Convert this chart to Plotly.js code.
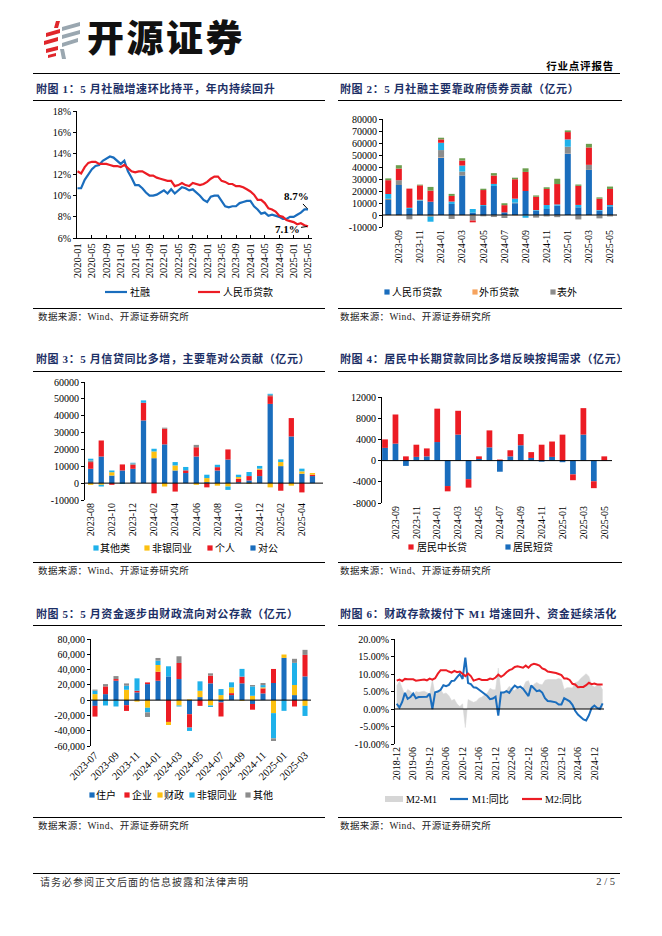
<!DOCTYPE html>
<html lang="zh-CN">
<head>
<meta charset="utf-8">
<title>行业点评报告</title>
<script src="https://cdn.plot.ly/plotly-3.0.1.min.js"></script>
<style>
html,body{margin:0;padding:0;background:#fff;}
body{width:662px;height:936px;position:relative;overflow:hidden;font-family:"Liberation Serif","Noto Sans CJK SC",serif;color:#000;}
.t{position:absolute;white-space:nowrap;line-height:1;}
.ttl{font-weight:700;font-size:11px;color:#1c2f66;letter-spacing:0.6px;}
.hr{position:absolute;height:0;border-top:1px solid #000;}
.src{font-size:9.5px;color:#222;letter-spacing:0.4px;}
.chart{position:absolute;}
</style>
</head>
<body>
<svg class="t" style="left:42px;top:19px" width="42" height="42" viewBox="0 0 42 42">
  <g fill="#e0262b">
    <polygon points="14,2 18,2 16,9 12,9"/>
    <polygon points="4,14 18,10 18,14 4,18"/>
    <polygon points="2,22 16,18 16,22 2,26"/>
    <polygon points="4,30 16,27 16,31 4,34"/>
    <polygon points="6,36 14,34 14,37 6,39"/>
  </g>
  <g fill="#9aa7b0">
    <polygon points="20,8 38,3 38,7 20,12"/>
    <polygon points="20,16 38,11 38,15 20,20"/>
    <polygon points="20,24 36,19 36,23 20,28"/>
    <polygon points="18,30 22,30 24,40 20,40"/>
  </g>
</svg>
<div class="t" style="left:87px;top:18px;font-family:'Noto Sans CJK SC';font-weight:900;font-size:37px;letter-spacing:2.5px;color:#111;">开源证券</div>
<div class="t" style="right:48px;top:61px;font-family:'Noto Sans CJK SC';font-weight:700;font-size:10.5px;letter-spacing:0.8px;">行业点评报告</div>
<div class="hr" style="left:33px;width:587px;top:73px;border-top-width:1.5px"></div>

<div class="t ttl" style="left:36px;top:84px;">附图 1：5 月社融增速环比持平，年内持续回升</div>
<div class="t ttl" style="left:340px;top:84px;">附图 2：5 月社融主要靠政府债券贡献（亿元）</div>
<div class="hr" style="left:33px;width:292px;top:100px;"></div>
<div class="hr" style="left:338px;width:284px;top:100px;"></div>
<div class="hr" style="left:33px;width:292px;top:308px;"></div>
<div class="hr" style="left:338px;width:284px;top:308px;"></div>
<div class="t src" style="left:38px;top:313px;">数据来源：Wind、开源证券研究所</div>
<div class="t src" style="left:340px;top:313px;">数据来源：Wind、开源证券研究所</div>

<div class="t ttl" style="left:36px;top:354px;">附图 3：5 月信贷同比多增，主要靠对公贡献（亿元）</div>
<div class="t ttl" style="left:340px;top:354px;">附图 4：居民中长期贷款同比多增反映按揭需求（亿元）</div>
<div class="hr" style="left:33px;width:292px;top:371px;"></div>
<div class="hr" style="left:338px;width:284px;top:371px;"></div>
<div class="hr" style="left:33px;width:292px;top:562px;"></div>
<div class="hr" style="left:338px;width:284px;top:562px;"></div>
<div class="t src" style="left:38px;top:567px;">数据来源：Wind、开源证券研究所</div>
<div class="t src" style="left:340px;top:567px;">数据来源：Wind、开源证券研究所</div>

<div class="t ttl" style="left:36px;top:609px;">附图 5：5 月资金逐步由财政流向对公存款（亿元）</div>
<div class="t ttl" style="left:340px;top:609px;">附图 6：财政存款拨付下 M1 增速回升、资金延续活化</div>
<div class="hr" style="left:33px;width:292px;top:625px;"></div>
<div class="hr" style="left:338px;width:284px;top:625px;"></div>
<div class="hr" style="left:33px;width:292px;top:817px;"></div>
<div class="hr" style="left:338px;width:284px;top:817px;"></div>
<div class="t src" style="left:38px;top:822px;">数据来源：Wind、开源证券研究所</div>
<div class="t src" style="left:340px;top:822px;">数据来源：Wind、开源证券研究所</div>

<div class="hr" style="left:33px;width:587px;top:873px;"></div>
<div class="t" style="left:40px;top:877px;font-size:10px;color:#333;letter-spacing:1px;font-family:'Noto Sans CJK SC';">请务必参阅正文后面的信息披露和法律声明</div>
<div class="t" style="right:47px;top:877px;font-size:10.5px;color:#333;">2 / 5</div>

<script>
// ---------- categories ----------
function monthRange(y, m, n) {
  const out = [];
  for (let i = 0; i < n; i++) {
    const mm = m - 1 + i;
    const yy = y + Math.floor(mm / 12);
    const mo = (mm % 12) + 1;
    out.push(yy + '-' + (mo < 10 ? '0' : '') + mo);
  }
  return out;
}
const months1 = monthRange(2020, 1, 65);
const monthsB = monthRange(2023, 8, 22);
const months5 = monthRange(2023, 7, 21);
const months6 = monthRange(2018, 12, 76);

// ---------- chart 1: growth rates (%) ----------
const tsfGrowth = [10.7,10.7,11.5,12.0,12.5,12.8,12.9,13.3,13.5,13.7,13.6,13.3,
  13.0,13.3,12.3,11.7,11.0,11.0,10.7,10.3,10.0,10.0,10.1,10.3,
  10.5,10.2,10.6,10.2,10.5,10.8,10.7,10.5,10.6,10.3,10.0,9.6,
  9.4,9.9,10.0,10.0,9.5,9.0,8.9,9.0,9.0,9.3,9.4,9.5,
  9.5,9.0,8.7,8.3,8.4,8.1,8.2,8.1,8.0,7.8,7.8,8.0,
  8.0,8.2,8.4,8.7,8.7];
const loanGrowth = [12.3,12.1,12.7,13.1,13.2,13.2,13.0,13.0,13.0,12.9,12.8,12.8,
  12.7,12.9,12.6,12.3,12.2,12.3,12.3,12.1,11.9,11.9,11.7,11.6,
  11.5,11.4,11.4,10.9,11.0,11.2,11.0,10.9,11.2,11.1,11.0,11.1,
  11.3,11.6,11.8,11.8,11.4,11.3,11.1,11.1,10.9,10.9,10.8,10.6,
  10.4,10.1,9.6,9.6,9.3,8.8,8.7,8.5,8.1,8.0,7.7,7.6,
  7.5,7.3,7.4,7.2,7.1];
const y1Ticks = [6, 8, 10, 12, 14, 16, 18];

// ---------- chart 2: TSF components (亿元) ----------
const rmbLoans2 = [12500,25000,5000,11700,11100,47900,9200,32900,2000,7500,24200,2200,9800,20000,3600,5000,7800,51300,6400,37600,3600,7200];
const fxLoans2  = [-200,-300,-300,-200,-400,400,-300,-200,-600,-100,-200,-500,-300,-300,-200,-200,-300,300,-200,-200,-300,-200];
const offBal2   = [1000,4000,-3300,500,-1000,5800,-3000,3300,-4000,-1000,-1500,-2000,500,0,-2000,-1000,-1500,5300,-3500,4200,-2500,-1000];
const corpBond2 = [4000,0,1000,500,-4200,6100,2000,5000,3000,800,1700,0,3300,-2000,500,3300,1000,6100,2000,0,500,1100];
const govBond2  = [11500,9700,16000,12000,9200,2800,4700,4200,-1500,12500,7000,6000,16200,15900,11100,13400,17000,6100,15900,14500,9500,13400];
const other2    = [1500,2800,0,600,3100,1400,1700,1900,0,1100,2000,1600,1300,3000,1100,1400,4400,1400,1100,3000,1100,2000];
const y2Ticks = [-10000,0,10000,20000,30000,40000,50000,60000,70000,80000];

// ---------- chart 3: new loans by sector (亿元) ----------
const corp3  = [8500,15800,4500,7500,8500,37200,14800,23000,7500,6000,15800,600,7500,14000,600,1600,4200,47000,10100,27700,5600,4200];
const hh3    = [4000,9500,-1000,3600,2400,10500,-6000,9300,-5000,1600,5500,-2500,2000,6000,2000,2600,3800,4600,-4500,10900,-5500,800];
const nbank3 = [-1000,-1000,2000,0,0,0,4000,-2000,3000,0,-1000,2400,-1500,-2000,1000,-500,600,-2500,2400,-1500,1400,1000];
const grey3  = [1000,0,0,0,800,0,0,600,0,0,1400,0,0,0,0,0,0,800,0,0,0,0];
const other3 = [1000,-1000,1000,-500,400,1400,1600,0,2000,2000,0,2000,1400,-2000,1400,2400,1600,600,1600,0,1600,0];
const y3Ticks = [-10000,0,10000,20000,30000,40000,50000,60000];

// ---------- chart 4: household loans (亿元) ----------
const hhShort4 = [2400,3200,-1000,700,800,3500,-4800,4900,-3500,300,2500,-2100,800,2900,500,-200,700,-300,-2600,4900,-3900,-50];
const hhMid4   = [1600,5500,800,2300,1500,6300,-1000,4500,-1600,500,3200,200,1150,2100,1100,3000,2900,4900,-1100,5000,-1300,800];
const y4Ticks = [-8000,-4000,0,4000,8000,12000];

// ---------- chart 5: deposits by sector (亿元) ----------
const hh5    = [-7500,7900,25400,-6600,10100,21000,25400,31100,27600,-18400,4000,22000,-3000,6600,22000,-5000,8800,22400,55300,6600,31100];
const corp5  = [-14000,10100,2200,-7500,2200,2200,11800,-28500,21000,-17500,-7500,10100,-18400,2600,8800,-7500,6600,18400,0,-8300,28100];
const fisc5  = [7900,0,0,13600,-2000,-10000,8800,-4000,-7000,1000,8300,-7000,6600,7500,-1000,5700,1300,-17000,4400,13200,-7500];
const nbank5 = [4400,-7000,-8300,5300,16200,-6000,5700,13200,-1300,-4400,12300,-2000,7900,6600,10100,12300,3000,-33000,-14000,29000,-13200];
const other5 = [1500,3000,3900,3000,0,-6000,3500,0,8800,0,0,3000,0,0,0,1800,2700,-3500,0,5300,6600];
const y5Ticks = [-60000,-40000,-20000,0,20000,40000,60000,80000];

// ---------- chart 6: M1 / M2 growth (%) ----------
const m1Yoy = [1.5,
  0.4,2.0,4.6,2.9,3.4,4.4,3.1,3.4,3.4,3.3,3.5,4.4,
  0.0,4.8,5.0,5.5,6.8,6.5,6.9,8.0,8.1,9.1,10.0,8.6,
  14.7,7.4,7.1,6.2,6.1,5.5,4.9,4.2,3.7,2.8,3.0,3.5,
  -1.9,4.7,4.7,5.1,4.6,5.8,6.7,6.1,6.4,5.8,4.6,3.7,
  6.7,5.8,5.1,5.3,4.7,3.1,2.3,2.2,2.1,1.9,1.3,1.3,
  3.1,2.6,2.2,1.2,-0.5,-1.6,-2.4,-3.0,-3.3,-1.8,0.3,1.0,
  0.3,0.0,1.6];
const m2Yoy = [8.1,
  8.4,8.0,8.6,8.5,8.5,8.5,8.1,8.2,8.4,8.4,8.2,8.7,
  8.4,8.8,10.1,11.1,11.1,11.1,10.7,10.4,10.9,10.5,10.7,10.1,
  9.4,10.1,9.4,8.1,8.3,8.6,8.3,8.2,8.3,8.7,8.5,9.0,
  9.8,9.2,9.7,10.5,11.1,11.4,12.0,12.2,12.1,11.8,12.4,11.8,
  12.6,12.9,12.7,12.4,11.6,11.3,10.7,10.6,10.3,10.3,10.0,9.7,
  8.7,8.7,8.3,7.2,7.0,6.2,6.3,6.3,6.8,7.5,7.1,7.3,
  7.0,7.0,7.0];
const m2m1Gap = m2Yoy.map((v, i) => Math.round((v - m1Yoy[i]) * 10) / 10);
const y6Ticks = [-10, -5, 0, 5, 10, 15, 20];

// ---------- styles ----------
const FONT = '"Liberation Serif", "Noto Sans CJK SC", serif';
const COL = {blue:'#1a6dbd', red:'#ec1c24', cyan:'#1fb1ea', yellow:'#fcc010', grey:'#8c8c8c',
             green:'#6c9e4f', orange:'#f6a35e', area:'#d6d6d6'};

const G1 = {left:30,  top:102, w:300, h:204, ml:47, mt:9,  pw:235, ph:127};
const G2 = {left:335, top:102, w:300, h:204, ml:48, mt:17, pw:234, ph:108};
const G3 = {left:30,  top:372, w:300, h:188, ml:55, mt:10, pw:238, ph:118};
const G4 = {left:335, top:372, w:300, h:188, ml:47, mt:25, pw:230, ph:106};
const G5 = {left:30,  top:627, w:300, h:188, ml:61, mt:12, pw:220, ph:107};
const G6 = {left:335, top:627, w:300, h:188, ml:60, mt:12, pw:209, ph:105};

function makeDiv(g, id) {
  const d = document.createElement('div');
  d.id = id; d.className = 'chart';
  d.style.left = g.left + 'px'; d.style.top = g.top + 'px';
  d.style.width = g.w + 'px'; d.style.height = g.h + 'px';
  document.body.appendChild(d);
  return d;
}
function baseLayout(g) {
  return {
    width: g.w, height: g.h,
    margin: {l: g.ml, r: g.w - g.ml - g.pw, t: g.mt, b: g.h - g.mt - g.ph, pad: 0},
    paper_bgcolor: 'rgba(0,0,0,0)', plot_bgcolor: 'rgba(0,0,0,0)',
    showlegend: false, barmode: 'relative',
    font: {family: FONT, size: 10, color: '#000'},
    shapes: [], annotations: []
  };
}
function yAx(range, vals, texts) {
  return {range: range, tickvals: vals, ticktext: texts, showline: true, linecolor: '#000', linewidth: 1,
          ticks: 'outside', ticklen: 3, tickcolor: '#000', showgrid: false, zeroline: false,
          tickfont: {family: FONT, size: 10, color: '#000'}, fixedrange: true};
}
function xCat(cats, range, ticks, angle) {
  return {type: 'category', categoryarray: cats, range: range, tickvals: ticks, ticktext: ticks, tickangle: angle,
          showline: false, ticks: '', showgrid: false, zeroline: false,
          tickfont: {family: FONT, size: 10, color: '#000'}, fixedrange: true};
}
function zeroLine() {
  return {type: 'line', xref: 'paper', x0: 0, x1: 1, yref: 'y', y0: 0, y1: 0,
          line: {color: '#000', width: 1}, layer: 'above'};
}
// custom legend drawn with shapes + annotations, positions in page pixels
function addLegend(layout, g, y, items) {
  const px = X => (X - g.left - g.ml) / g.pw;
  const py = Y => 1 - (Y - g.top - g.mt) / g.ph;
  items.forEach(it => {
    if (it.kind === 'sq') {
      layout.shapes.push({type: 'rect', xref: 'paper', yref: 'paper', x0: px(it.c - 2.6), x1: px(it.c + 2.6),
        y0: py(y + 2.6), y1: py(y - 2.6), fillcolor: it.color, line: {width: 0}, layer: 'above'});
    } else if (it.kind === 'line') {
      layout.shapes.push({type: 'line', xref: 'paper', yref: 'paper', x0: px(it.a), x1: px(it.b),
        y0: py(y), y1: py(y), line: {color: it.color, width: 2.2}, layer: 'above'});
    } else {
      layout.shapes.push({type: 'rect', xref: 'paper', yref: 'paper', x0: px(it.a), x1: px(it.b),
        y0: py(y + 3), y1: py(y - 3), fillcolor: it.color, line: {width: 0}, layer: 'above'});
    }
    layout.annotations.push({xref: 'paper', yref: 'paper', x: px(it.t - 2), y: py(y), xanchor: 'left', yanchor: 'middle',
      text: it.name, showarrow: false, font: {family: FONT, size: 10, color: '#000'}});
  });
}
function bar(name, x, y, color) {
  return {type: 'bar', name: name, x: x, y: y, marker: {color: color, line: {width: 0}}, hoverinfo: 'skip'};
}
const cfg = {staticPlot: true, displayModeBar: false};

// ---------- chart 1 ----------
(function () {
  const g = G1, d = makeDiv(g, 'c1');
  const L = baseLayout(g);
  const ticks = months1.filter((m, i) => i % 4 === 0);
  L.xaxis = xCat(months1, [-0.14, 65.1], ticks, -90);
  L.xaxis.showline = true; L.xaxis.linecolor = '#000'; L.xaxis.ticks = 'inside'; L.xaxis.ticklen = 3; L.xaxis.tickcolor = '#000';
  L.xaxis.tickfont.size = 10.5;
  L.yaxis = yAx([6, 18], y1Ticks, y1Ticks.map(v => v + '%'));
  const last = months1.length - 1;
  L.annotations.push({x: months1[last], y: tsfGrowth[last], xref: 'x', yref: 'y', text: '<b>' + tsfGrowth[last].toFixed(1) + '%</b>',
    showarrow: true, arrowhead: 0, arrowwidth: 1, arrowcolor: '#000', ax: -12, ay: -13, standoff: 1,
    font: {family: FONT, size: 11, color: '#000'}});
  L.annotations.push({x: months1[last], y: loanGrowth[last], xref: 'x', yref: 'y', text: '<b>' + loanGrowth[last].toFixed(1) + '%</b>',
    showarrow: true, arrowhead: 0, arrowwidth: 1, arrowcolor: '#000', ax: -21, ay: 3, standoff: 1,
    font: {family: FONT, size: 11, color: '#000'}});
  addLegend(L, g, 292, [
    {kind: 'line', a: 105, b: 127, t: 130, color: COL.blue, name: '社融'},
    {kind: 'line', a: 198, b: 220, t: 223, color: COL.red, name: '人民币贷款'}
  ]);
  const data = [
    {type: 'scatter', mode: 'lines', name: '社融', x: months1, y: tsfGrowth, line: {color: COL.blue, width: 2.2}, hoverinfo: 'skip'},
    {type: 'scatter', mode: 'lines', name: '人民币贷款', x: months1, y: loanGrowth, line: {color: COL.red, width: 2.2}, hoverinfo: 'skip'}
  ];
  Plotly.newPlot(d, data, L, cfg);
})();

// ---------- chart 2 ----------
(function () {
  const g = G2, d = makeDiv(g, 'c2');
  const L = baseLayout(g);
  L.bargap = 0.43;
  const ticks = monthsB.filter((m, i) => i % 2 === 1);
  L.xaxis = xCat(monthsB, [-0.5, 21.66], ticks, -90);
  L.yaxis = yAx([-10000, 80000], y2Ticks, y2Ticks.map(v => String(v)));
  L.shapes.push(zeroLine());
  addLegend(L, g, 292, [
    {kind: 'sq', c: 387, t: 392, color: COL.blue, name: '人民币贷款'},
    {kind: 'sq', c: 475, t: 479, color: COL.orange, name: '外币贷款'},
    {kind: 'sq', c: 553, t: 557, color: COL.grey, name: '表外'}
  ]);
  const data = [
    bar('人民币贷款', monthsB, rmbLoans2, COL.blue),
    bar('外币贷款', monthsB, fxLoans2, COL.orange),
    bar('表外', monthsB, offBal2, COL.grey),
    bar('企业债券', monthsB, corpBond2, COL.cyan),
    bar('政府债券', monthsB, govBond2, COL.red),
    bar('其他融资', monthsB, other2, COL.green)
  ];
  Plotly.newPlot(d, data, L, cfg);
})();

// ---------- chart 3 ----------
(function () {
  const g = G3, d = makeDiv(g, 'c3');
  const L = baseLayout(g);
  L.bargap = 0.5;
  const ticks = monthsB.filter((m, i) => i % 2 === 0);
  L.xaxis = xCat(monthsB, [-0.54, 22.0], ticks, -90);
  L.yaxis = yAx([-10000, 60000], y3Ticks, y3Ticks.map(v => String(v)));
  L.shapes.push(zeroLine());
  addLegend(L, g, 548, [
    {kind: 'sq', c: 96, t: 100, color: COL.cyan, name: '其他类'},
    {kind: 'sq', c: 147, t: 152, color: COL.yellow, name: '非银同业'},
    {kind: 'sq', c: 210, t: 215, color: COL.red, name: '个人'},
    {kind: 'sq', c: 253, t: 258, color: COL.blue, name: '对公'}
  ]);
  const data = [
    bar('对公', monthsB, corp3, COL.blue),
    bar('个人', monthsB, hh3, COL.red),
    bar('非银同业', monthsB, nbank3, COL.yellow),
    bar('未列示', monthsB, grey3, COL.grey),
    bar('其他类', monthsB, other3, COL.cyan)
  ];
  Plotly.newPlot(d, data, L, cfg);
})();

// ---------- chart 4 ----------
(function () {
  const g = G4, d = makeDiv(g, 'c4');
  const L = baseLayout(g);
  L.bargap = 0.45;
  const ticks = monthsB.filter((m, i) => i % 2 === 1);
  L.xaxis = xCat(monthsB, [-0.29, 21.74], ticks, -90);
  L.yaxis = yAx([-8000, 12000], y4Ticks, y4Ticks.map(v => String(v)));
  L.shapes.push(zeroLine());
  addLegend(L, g, 547, [
    {kind: 'sq', c: 411, t: 417, color: COL.red, name: '居民中长贷'},
    {kind: 'sq', c: 508, t: 513, color: COL.blue, name: '居民短贷'}
  ]);
  const data = [
    bar('居民短贷', monthsB, hhShort4, COL.blue),
    bar('居民中长贷', monthsB, hhMid4, COL.red)
  ];
  Plotly.newPlot(d, data, L, cfg);
})();

// ---------- chart 5 ----------
(function () {
  const g = G5, d = makeDiv(g, 'c5');
  const L = baseLayout(g);
  L.bargap = 0.52;
  const ticks = months5.filter((m, i) => i % 2 === 0);
  L.xaxis = xCat(months5, [-0.38, 20.57], ticks, -45);
  L.xaxis.tickfont.size = 10.5;
  L.yaxis = yAx([-60000, 80000], y5Ticks, y5Ticks.map(v => v.toLocaleString('en-US')));
  L.shapes.push(zeroLine());
  addLegend(L, g, 795, [
    {kind: 'sq', c: 92, t: 96, color: COL.blue, name: '住户'},
    {kind: 'sq', c: 127, t: 132, color: COL.red, name: '企业'},
    {kind: 'sq', c: 160, t: 164, color: COL.yellow, name: '财政'},
    {kind: 'sq', c: 192, t: 197, color: COL.cyan, name: '非银同业'},
    {kind: 'sq', c: 248, t: 253, color: COL.grey, name: '其他'}
  ]);
  const data = [
    bar('住户', months5, hh5, COL.blue),
    bar('企业', months5, corp5, COL.red),
    bar('财政', months5, fisc5, COL.yellow),
    bar('非银同业', months5, nbank5, COL.cyan),
    bar('其他', months5, other5, COL.grey)
  ];
  Plotly.newPlot(d, data, L, cfg);
})();

// ---------- chart 6 ----------
(function () {
  const g = G6, d = makeDiv(g, 'c6');
  const L = baseLayout(g);
  const ticks = months6.filter((m, i) => i % 6 === 0);
  L.xaxis = xCat(months6, [-0.62, 75.5], ticks, -90);
  L.yaxis = yAx([-10, 20], y6Ticks, y6Ticks.map(v => v.toFixed(2) + '%'));
  L.shapes.push(zeroLine());
  addLegend(L, g, 799, [
    {kind: 'box', a: 385, b: 403, t: 406, color: COL.area, name: 'M2-M1'},
    {kind: 'line', a: 450, b: 468, t: 472, color: COL.blue, name: 'M1:同比'},
    {kind: 'line', a: 522, b: 542, t: 545, color: COL.red, name: 'M2:同比'}
  ]);
  const data = [
    {type: 'scatter', mode: 'lines', name: 'M2-M1', x: months6, y: m2m1Gap, fill: 'tozeroy', fillcolor: COL.area,
     line: {color: COL.area, width: 0.5}, hoverinfo: 'skip'},
    {type: 'scatter', mode: 'lines', name: 'M1:同比', x: months6, y: m1Yoy, line: {color: COL.blue, width: 2}, hoverinfo: 'skip'},
    {type: 'scatter', mode: 'lines', name: 'M2:同比', x: months6, y: m2Yoy, line: {color: COL.red, width: 2}, hoverinfo: 'skip'}
  ];
  Plotly.newPlot(d, data, L, cfg);
})();
</script>
</body>
</html>
